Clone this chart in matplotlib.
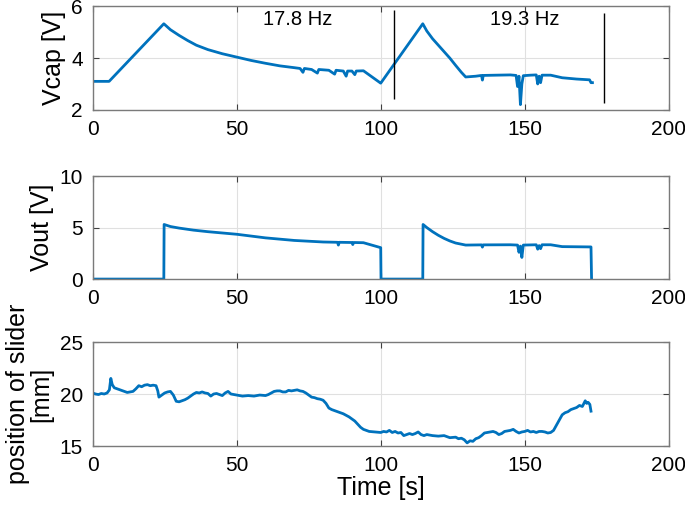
import numpy as np
import matplotlib.pyplot as plt

plt.rcParams['font.family'] = ['Liberation Sans', 'DejaVu Sans']
plt.rcParams['font.size'] = 15

# capacitor voltage (s, V)
t_vcap = [0, 5.7, 24.7, 27, 30, 33, 36, 40, 45, 50,
          55, 60, 65, 70, 72, 73, 73.5, 76, 78, 78.5,
          82, 84, 84.5, 87, 88, 88.5, 90, 91, 91.5, 94,
          100, 114.6, 116, 118, 120, 122, 124, 126, 128, 129.5,
          133, 135, 135.3, 135.6, 140, 145, 147, 147.5, 148, 148.5,
          149, 149.5, 152, 154, 154.5, 155, 155.5, 156, 159, 163,
          168, 172.5, 173, 173.5]
vcap = [3.1, 3.1, 5.33, 5.1, 4.88, 4.68, 4.5, 4.33, 4.17, 4.04,
        3.91, 3.8, 3.7, 3.63, 3.6, 3.45, 3.6, 3.56, 3.42, 3.56,
        3.53, 3.38, 3.53, 3.5, 3.3, 3.5, 3.5, 3.36, 3.5, 3.51,
        3.03, 5.33, 5.05, 4.75, 4.5, 4.25, 4.0, 3.72, 3.45, 3.27,
        3.3, 3.33, 3.15, 3.33, 3.34, 3.35, 3.33, 2.9, 3.3, 2.2,
        3.0, 3.32, 3.34, 3.35, 3.0, 3.3, 3.05, 3.34, 3.34, 3.24,
        3.19, 3.16, 3.05, 3.05]

# output voltage (s, V)
t_vout = [0, 24.7, 24.8, 27, 30, 35, 40, 50, 60, 70,
          80, 85, 85.3, 85.6, 90, 90.3, 90.6, 94, 100, 100.1,
          114.6, 114.7, 116, 118, 120, 122, 124, 126, 129.5, 135,
          135.3, 135.6, 145, 147.5, 148, 148.5, 149, 149.5, 154, 154.5,
          155, 155.5, 156, 159, 163, 173, 173.2]
vout = [0, 0, 5.3, 5.1, 4.95, 4.75, 4.6, 4.35, 4.0, 3.75,
        3.6, 3.57, 3.3, 3.57, 3.55, 3.35, 3.55, 3.53, 3.05, 0,
        0, 5.3, 5.0, 4.6, 4.25, 3.95, 3.7, 3.5, 3.3, 3.32,
        3.1, 3.32, 3.33, 3.3, 2.6, 3.2, 2.1, 3.3, 3.33, 2.9,
        3.25, 2.95, 3.33, 3.33, 3.15, 3.12, 0]

# slider position (s, mm)
t_pos = [0, 1, 2, 3, 4, 5, 5.8, 6.3, 6.8, 7.5,
         8.5, 9.5, 10.5, 12, 13, 14, 15, 16, 17, 18,
         19, 20, 21, 22, 22.6, 23, 24, 25, 26, 27,
         28, 29, 30, 31, 32, 33, 34, 35, 36, 37,
         38, 39, 40, 41, 42, 43, 44, 45, 46, 47,
         48, 49, 50, 52, 54, 56, 58, 60, 61, 62,
         63, 64, 65, 66, 67, 68, 69, 70, 71, 72,
         73, 74, 75, 76, 77, 78, 79, 80, 81, 82,
         83, 84, 85, 86, 87, 88, 89, 90, 91, 92,
         93, 94, 95, 96, 98, 100, 101, 102, 103, 104,
         105, 106, 107, 108, 109, 110, 111, 112, 113, 114,
         115, 116, 118, 120, 122, 124, 126, 127, 128, 129,
         130, 131, 132, 133, 134, 135, 136, 137, 138, 139,
         140, 141, 142, 143, 144, 145, 146, 147, 148, 149,
         150, 151, 152, 153, 154, 155, 156, 157, 158, 159,
         160, 161, 162, 163, 164, 165, 166, 167, 168, 169,
         170, 171, 171.5, 172, 172.6, 173]
pos = [20.1, 20.0, 19.95, 20.05, 20.0, 20.1, 20.4, 21.5, 20.9, 20.6,
       20.5, 20.4, 20.3, 20.15, 20.2, 20.25, 20.5, 20.8, 20.7, 20.85,
       20.9, 20.8, 20.85, 20.8, 20.3, 19.7, 19.9, 20.1, 20.2, 20.25,
       19.9, 19.3, 19.25, 19.35, 19.45, 19.6, 19.8, 20.0, 20.15, 20.1,
       20.2, 20.1, 20.05, 19.8, 20.0, 20.05, 19.95, 19.85, 20.1, 20.25,
       20.0, 19.95, 19.9, 19.8, 19.85, 19.8, 19.9, 19.85, 19.95, 20.1,
       20.25, 20.3, 20.3, 20.2, 20.2, 20.35, 20.3, 20.35, 20.4, 20.3,
       20.25, 20.1, 19.9, 19.7, 19.65, 19.55, 19.5, 19.4, 19.1, 18.65,
       18.5, 18.4, 18.3, 18.2, 18.1, 17.95, 17.8, 17.6, 17.4, 17.1,
       16.8, 16.6, 16.5, 16.4, 16.35, 16.3, 16.4, 16.35, 16.5, 16.3,
       16.4, 16.25, 16.3, 16.0, 16.1, 16.2, 16.1, 16.2, 16.35, 16.1,
       16.0, 16.1, 16.0, 15.95, 16.0, 15.8, 15.85, 15.7, 15.75, 15.6,
       15.3, 15.5, 15.45, 15.7, 15.8, 16.0, 16.25, 16.3, 16.35, 16.4,
       16.3, 16.1, 16.2, 16.4, 16.45, 16.5, 16.6, 16.4, 16.25, 16.35,
       16.4, 16.5, 16.35, 16.4, 16.3, 16.4, 16.4, 16.35, 16.25, 16.3,
       16.5, 17.0, 17.5, 18.0, 18.2, 18.3, 18.5, 18.6, 18.7, 18.9,
       18.8, 19.35, 19.1, 19.2, 19.0, 18.35]

# vertical markers and frequency labels on the top panel
marker_t = [104.5, 177.4]
marker_lo = [2.4, 2.26]
marker_hi = [5.85, 5.75]
freq_t = [71, 150]
freq_v = [5.5, 5.5]
freq_txt = ['17.8 Hz', '19.3 Hz']

blue = '#0072BD'
lab = 18
fig = plt.figure(figsize=(6.85, 5.13), dpi=100)
left, width = 0.1353, 0.841
ax1 = fig.add_axes([left, 0.786, width, 0.2014])
ax2 = fig.add_axes([left, 0.456, width, 0.2008])
ax3 = fig.add_axes([left, 0.1306, width, 0.2027])

ax1.plot(t_vcap, vcap, color=blue, lw=2)
ax1.vlines(marker_t, marker_lo, marker_hi, color='black', lw=1)
for t, v, s in zip(freq_t, freq_v, freq_txt):
    ax1.text(t, v, s, ha='center', va='center', fontsize=14.5)
ax1.set_ylim(2, 6)
ax1.set_yticks([2, 4, 6])
ax1.set_ylabel('Vcap [V]', fontsize=lab)

ax2.plot(t_vout, vout, color=blue, lw=2)
ax2.set_ylim(0, 10)
ax2.set_yticks([0, 5, 10])
ax2.set_ylabel('Vout [V]', fontsize=lab)

ax3.plot(t_pos, pos, color=blue, lw=2)
ax3.set_ylim(15, 25)
ax3.set_yticks([15, 20, 25])
ax3.set_ylabel('position of slider\n[mm]', fontsize=lab, linespacing=1.0)
ax3.set_xlabel('Time [s]', fontsize=lab, labelpad=1)

for ax in (ax1, ax2, ax3):
    ax.set_xlim(0, 200)
    ax.set_xticks([0, 50, 100, 150, 200])
    ax.grid(True, color='#e0e0e0', lw=0.8)
    ax.tick_params(direction='in', length=4, color='#404040', top=True, right=True,
                   labelsize=15)
    ax.tick_params(axis='x', pad=7)
    ax.tick_params(axis='y', pad=7)
    for sp in ax.spines.values():
        sp.set_color('#7a7a7a')
        sp.set_linewidth(1)

ax1.yaxis.set_label_coords(-0.047, 0.5)
ax2.yaxis.set_label_coords(-0.068, 0.5)
ax3.yaxis.set_label_coords(-0.068, 0.5)

fig.savefig('out.png', dpi=100)
